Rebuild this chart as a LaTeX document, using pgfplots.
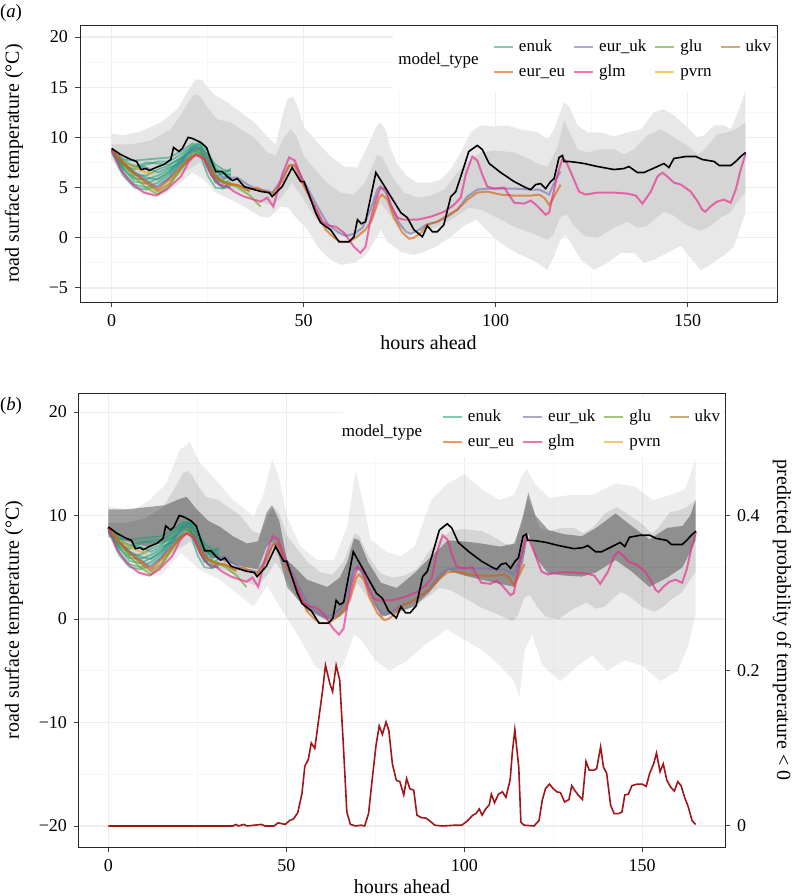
\documentclass[border=0pt]{standalone}
\usepackage{fontspec}
\setmainfont{Liberation Serif}
\usepackage{pgfplots}
\pgfplotsset{compat=1.18}
\usepackage{pgfplotstable}

\definecolor{cEnuk}{HTML}{1B9E77}
\definecolor{cEurEu}{HTML}{D95F02}
\definecolor{cEurUk}{HTML}{7570B3}
\definecolor{cGlm}{HTML}{E7298A}
\definecolor{cGlu}{HTML}{66A61E}
\definecolor{cPvrn}{HTML}{E6AB02}
\definecolor{cUkv}{HTML}{A6761D}
\definecolor{cProb}{HTML}{A31419}
\definecolor{bandOut}{HTML}{E8E8E8}
\definecolor{bandIn}{HTML}{D5D5D5}

% ---------------- data ----------------
\pgfplotstableread{
h t1 t2 t3 t4 t5 t6 t7 t8 t9 t10
0 8.8 8.7 8.6 8.8 8.5 8.7 8.9 8.6 8.8 8.7
3 7.8 7.2 6.8 6.5 6.2 7.5 7.0 7.4 6.9 7.8
6 7.7 6.8 5.9 5.3 5.0 6.2 6.5 7.2 5.6 7.0
9 7.8 7.3 5.8 5.0 4.8 6.2 6.0 7.0 5.4 7.5
12 7.9 7.6 6.2 5.5 5.2 6.8 5.8 6.5 5.9 7.4
15 8.0 7.6 6.8 6.3 6.0 7.2 6.5 7.0 6.6 7.3
18 8.6 8.3 7.8 7.5 7.2 8.0 7.8 7.4 7.6 7.9
21 9.4 9.2 9.0 8.9 8.5 9.1 8.8 8.2 8.8 8.6
23 9.2 9.0 8.8 9.3 8.7 9.5 8.4 8.5 9.0 8.9
25 8.0 7.4 7.0 8.2 7.6 8.6 6.2 7.8 7.0 8.3
27 6.6 6.0 5.5 5.8 6.0 7.0 5.0 6.8 5.6 7.3
29 6.3 6.5 5.8 5.0 5.4 6.4 4.9 6.0 5.0 6.8
31 6.9 6.7 6.2 5.5 5.8 6.3 5.2 6.4 5.0 6.6
}\enuk

\pgfplotstableread{
h v
0 8.8
3 7.3
6 6.0
9 5.0
12 4.3
15 5.2
18 6.8
21 8.4
23 8.8
25 7.8
27 6.0
30 5.5
33 5.0
36 4.2
38.8 3.1
}\glu

\pgfplotstableread{
h v
0 8.8
3 7.5
6 6.4
9 5.4
12 4.6
15 5.4
18 6.9
21 8.1
23 8.3
25 7.4
27 6.0
29 5.6
31 5.4
33 5.2
36 4.6
}\ukv

\pgfplotstableread{
h v
0 8.8
3 7.6
6 7.0
9 6.5
11 6.4
}\pvrn

\pgfplotstableread{
h v
0 8.8
3 7.4
6 6.4
9 5.6
12 4.8
15 5.8
18 7.0
20 7.8
22 8.3
24 7.9
26 6.6
28 5.8
30.1 5.3
32.7 5.3
35.4 4.8
37.9 5.0
40 4.6
41.8 4.4
44.4 5.6
46.2 7.2
47.5 7.3
50.1 5.1
53.6 2.5
55.7 0.8
57.9 0.0
59.6 -0.4
61.8 -0.4
63.9 0.1
66.1 0.8
67.8 1.8
69.6 4.0
70.4 4.3
71.8 3.8
73.5 2.0
75.7 0.5
77.5 -0.1
78.7 0.0
80.5 0.5
82.2 1.3
84.8 1.6
87.4 2.2
90 2.8
92.6 3.8
95.2 4.5
97.8 4.6
101.3 4.3
104.8 4.2
109.1 4.2
111.3 4.3
112.6 4.0
113.9 3.3
114.8 3.8
115.9 4.6
116.9 5.3
}\eureu

\pgfplotstableread{
h v
0 8.8
3 7.5
6 6.5
9 5.7
12 5.0
15 6.0
18 7.4
20 8.4
22 9.0
24 8.6
26 6.8
28 6.0
30 6.0
32.7 6.0
35.4 5.3
37.9 4.8
40.5 4.7
41.9 4.5
44 5.7
46.2 7.2
47.9 7.2
50.1 5.6
53.6 3.1
56.2 1.4
58.8 0.6
60.9 0.2
63.1 0.4
65.3 1.0
67.4 2.8
69.2 4.8
70 5.1
71.4 4.5
73.1 2.8
74.8 1.5
76.6 0.6
77.9 0.4
80.1 0.8
81.8 1.3
84.8 1.6
87.4 2.1
90 2.8
92.6 4.1
95.2 4.8
97.8 4.9
104.8 4.9
109.1 4.8
111.3 4.8
113 4.5
113.9 4.3
114.8 5.1
115.6 5.8
116.9 6.6
}\euruk

\pgfplotstableread{
h v
0 8.8
2.3 6.8
5 5.5
8.4 4.5
11.5 4.2
14.3 4.8
18 6.1
20.1 7.6
21.9 8.3
24.1 7.8
25.8 6.3
27.9 5.3
30.1 5.1
31.9 4.6
34.5 4.1
37.1 3.8
38.8 3.6
40.5 4.0
42.1 3.1
44.4 6.3
46.2 8.0
47.7 7.7
50.1 5.3
52.7 3.3
54.9 1.6
56.6 1.2
58.4 1.1
60.5 0.5
63.1 -0.9
64.8 -1.5
66.1 -0.9
67.4 1.8
68.8 3.8
70 5.0
71.4 4.8
72.7 3.3
74.4 2.0
76.1 1.8
79.6 1.8
83.1 2.1
86.6 2.6
89.2 3.3
90.9 4.0
92.2 6.3
93.9 8.1
95.2 7.7
96.5 6.3
97.8 5.1
99.6 4.9
102.2 5.0
104.8 3.5
107.4 3.4
109.1 3.7
110.5 3.3
113 2.3
113.9 2.5
114.8 4.1
116.1 6.3
117.4 7.9
118.2 7.7
119.6 6.5
121.7 4.6
123.4 4.3
126.5 4.5
130.8 4.5
134.3 4.4
136.5 4.2
138.2 3.4
140.4 4.6
142.1 6.1
143.4 6.5
144.7 6.1
146.4 5.5
148.2 5.3
150.8 4.6
152.6 3.6
153.8 2.8
154.6 2.6
155.9 3.1
157.6 3.6
159.4 3.8
161.2 3.5
162.5 4.8
163.8 6.8
165.1 8.4
}\glm

\pgfplotstableread{
h v
0 8.9
2.3 8.3
5 7.8
6.5 7.6
7.6 6.8
8.9 6.9
9.8 6.7
11.5 7.0
13.6 7.3
15.4 7.8
16.1 9.0
17.5 8.6
18.4 8.9
19.9 10.0
21 9.9
23.2 9.5
24.7 9.0
25.8 7.8
27.1 6.6
28.8 6.6
30.1 6.1
31.5 5.7
32.7 5.9
34.5 5.1
37.1 4.8
39 4.6
41 4.5
41.8 4.1
44.4 5.1
47 7.0
49.2 5.6
50.1 5.6
53.1 2.5
54.4 1.5
57 0.8
59.2 -0.4
61.8 -0.4
63.1 0.1
64 1.8
65 1.4
66.1 1.6
68.8 6.5
70.6 5.4
72.7 4.1
75.3 2.5
77 2.0
78.7 0.8
80.9 0.1
82.2 1.2
83.5 0.6
84.8 0.6
86.5 1.3
88.3 4.1
89.6 4.6
90.9 6.1
93 8.6
95.2 9.2
96.5 8.8
98.3 7.4
101.3 6.5
104.8 5.6
107.8 5.0
109.1 4.8
110.4 5.3
111.7 5.4
113 4.9
114.3 5.6
115.2 5.9
116.5 8.0
117.4 8.2
117.8 7.6
119.1 7.6
121.3 7.5
123 7.4
126.5 7.1
130.8 6.8
133.4 6.9
134.7 7.1
136.9 6.5
138.6 6.5
142.1 7.1
143.8 7.4
145.1 7.0
146.4 7.9
149.5 8.1
152.1 8.1
153.8 7.8
156.9 7.6
158.2 7.2
161.2 7.2
162.5 7.6
163.8 8.1
165.1 8.5
}\obs

% ribbons: upper edge, then lower edge (reversed below into one polygon)
\pgfplotstableread{
h v
0 10.4
3 10.2
7.6 10.6
12.8 11.5
17.1 12.8
19.7 14.5
21.9 15.8
23.6 15.7
24.9 15.0
26.6 14.3
30.1 13.5
33.6 12.5
37.1 11.5
40.5 10.1
42.7 9.3
44.9 12.8
45.8 13.8
47.1 14.1
48.2 13.3
50.1 11.0
53.6 9.5
57 8.1
60.5 7.1
64 7.0
66.6 9.1
68.8 11.0
70 11.5
71.4 10.7
72.7 8.8
74.4 7.3
77 6.1
79.6 5.5
83.1 5.5
85.7 5.8
88.3 6.8
90.9 8.5
93.5 10.5
96.1 11.2
99.6 11.1
103.1 11.2
106.5 10.8
110.9 10.5
113.5 9.8
115.2 10.8
117.8 13.5
119.1 13.1
121.3 11.2
123.9 10.5
127.3 10.5
130.8 10.1
134.3 10.5
137.8 10.8
141.2 12.5
143.8 12.8
146.4 12.2
149.9 11.0
152.5 10.0
154.2 10.2
156.9 11.2
159.5 11.2
161.2 10.8
163.4 12.8
165 14.6
}\outup

\pgfplotstableread{
h v
0 7.8
3 6.0
6 4.8
10 4.2
14 4.4
18 5.5
21 6.5
24 5.8
27 4.5
30 4.0
34 3.2
38.8 2.1
41 2.0
44 3.1
46 3.0
48 2.0
51 0.8
53.6 -0.9
57 -2.2
59.6 -2.7
63.1 -2.5
65.3 -2.0
66.6 -1.5
68.4 -0.3
70.1 0.8
71.8 -0.4
75.3 -1.4
78.7 -1.7
81.3 -1.4
84.8 -0.8
88.3 0.1
91.8 1.2
95 1.8
99.6 0.0
103.1 -1.0
106.5 -1.7
110 -2.3
113.5 -3.2
115.2 -1.8
116.9 -0.2
118 0.3
119.6 -0.5
122.2 -2.2
125.6 -3.2
129.1 -2.5
132.6 -1.5
136 -1.5
138.6 -2.5
141.2 -2.2
144.7 -1.5
148.2 -0.8
150.5 -1.9
153.4 -3.2
155.5 -2.8
157.7 -2.2
160.3 -1.5
162 -0.9
163.8 1.1
165 2.5
}\outlo

\pgfplotstableread{
h v
0 9.3
5 9.3
10.2 9.7
15.4 10.8
18.4 12.5
21 14.1
22.3 14.3
23.5 13.9
24.9 13.0
27.5 11.8
31 11.5
33.6 10.8
37.1 10.0
40.5 8.5
42.7 8.2
44.9 10.0
46.6 10.8
48 10.2
50.1 8.1
53 6.8
56 5.5
59.6 4.5
63 4.3
66 5.5
69.2 8.3
70.5 8.0
72.7 6.3
76.1 4.5
79.6 4.0
83.1 4.2
86.6 4.8
90 6.5
93.5 7.8
96.1 8.5
99.6 8.7
105 8.5
109 7.8
111.3 7.3
113.5 7.1
116.1 9.0
117.8 11.7
119.6 10.2
121.3 8.8
123.9 8.5
127.3 8.8
130.8 8.8
133.4 8.3
136 8.8
139.5 10.2
142.9 10.8
145.6 10.2
149.9 9.2
152.5 8.3
154.2 8.7
157.7 10.3
160.3 10.5
162.5 10.8
165 11.5
}\inup

\pgfplotstableread{
h v
0 8.2
5 6.0
10 5.2
15 5.6
20 6.8
23 7.5
25 6.5
28 5.2
32 4.8
36 4.2
40 3.4
42 3.2
44.5 4.2
47 5.5
50 3.8
53 2.0
56 0.8
59 0.2
62 0.0
65 0.4
68 2.0
70 3.5
72 2.5
75 1.0
78 0.5
81 0.8
84 1.0
87 1.5
90 2.2
93 3.0
96.1 2.8
101.3 1.8
104.8 1.1
109.1 0.5
113.5 -0.2
115 0.3
116.9 2.1
118.5 2.3
120.4 1.2
123 0.2
126.5 0.0
130.8 1.0
134.3 1.6
136.9 1.0
139.5 1.2
142.1 2.1
144 2.6
146.4 2.2
149.9 1.2
153.4 0.7
156 1.2
158.5 2.0
161 2.5
163.8 4.0
165 4.5
}\inlo

% scatter cloud extent (panel b)
\pgfplotstableread{
h v
0 10.9
6.9 10.5
11.6 11.5
16.3 13.1
20 16.3
22.9 17.1
25.7 15.1
29.5 13.7
35.1 11.5
40.8 9.9
43.6 12.1
46 15.4
47.6 14.1
50.2 9.9
54 7.0
58.7 5.7
63.4 5.7
67.1 8.9
69.5 14.4
71.4 11.5
73.7 7.7
78 6.5
82.2 6.1
86 7.0
90.7 11.5
95 13.0
100 14.0
105 12.5
110 11.5
114 12.0
116 13.7
117.5 14.5
120 13.0
124 11.7
130 12.0
136 12.0
142.5 13.1
148 12.8
153 11.5
158 12.0
162 12.5
165 15.4
}\cloudup

\pgfplotstableread{
h v
0 8.3
5.2 6.0
9 4.2
14.7 4.2
20.4 6.4
25.9 4.7
31.4 3.8
37.1 2.2
40.8 1.2
44.6 3.2
49.3 0.6
54 -2.0
58 -4.5
62 -5.5
66 -4.5
69 -1.5
71 -2.0
75 -4.0
79 -5.0
84 -4.0
89 -2.5
95 -1.0
100 -2.0
105 -3.0
110 -4.5
114 -6.0
115.5 -7.5
117 -3.0
119 -1.5
122 -4.5
127 -6.0
132 -4.5
136 -3.5
140 -5.0
145 -4.0
150 -4.5
155 -6.0
160 -5.0
163 -2.5
165 0.5
}\cloudlo

% dense core of the scatter (panel b)
\pgfplotstableread{
h v
0 10.6
5 10.6
10.6 10.8
16 11.0
20 11.6
22 11.8
24.8 10.6
28 9.5
31.4 8.9
35 8.0
38.9 7.3
42 7.5
44.5 10.3
46 11.0
48 9.5
50.2 5.7
53 4.8
55.8 3.8
61.5 3.1
65 4.0
67.1 5.5
69 7.8
70.5 7.6
73 5.5
76.6 3.5
81 3.0
85.9 4.4
90 5.8
95.4 7.6
100 7.5
104.8 7.3
110 7.0
114.2 7.3
116.5 10.0
118 12.2
120 10.0
123.6 8.6
128 8.2
133 8.0
137 8.8
142.5 10.2
147 9.0
152 7.7
157 8.8
161.3 9.0
163.5 10.0
165 11.5
}\coreup

\pgfplotstableread{
h v
0 7.9
5 7.5
10.6 7.0
16 7.5
20 8.7
22 8.8
24.8 7.0
28 6.2
31.4 5.7
35 5.3
38.9 5.0
42 4.8
44.5 7.0
46 7.5
48 6.0
50.2 3.1
53 2.0
55.8 0.9
61.5 -0.1
65 0.2
67.1 0.9
69 4.7
70.5 4.7
73 3.0
76.6 0.2
81 0.6
85.9 1.2
90 2.5
95.4 4.7
100 4.2
104.8 3.8
110 3.4
114.2 3.1
116.5 5.5
118 8.3
120 6.0
123.6 4.4
128 4.2
133 4.1
137 4.5
142.5 5.7
147 4.6
152 3.1
157 4.0
161.3 5.0
163.5 6.5
165 7.6
}\corelo

% closed polygons: upper edge forwards, lower edge backwards
\pgfplotstablesort[sort key=h, sort cmp=float >]{\outloR}{\outlo}
\pgfplotstablevertcat{\outup}{\outloR}
\pgfplotstablesort[sort key=h, sort cmp=float >]{\inloR}{\inlo}
\pgfplotstablevertcat{\inup}{\inloR}
\pgfplotstablesort[sort key=h, sort cmp=float >]{\cloudloR}{\cloudlo}
\pgfplotstablevertcat{\cloudup}{\cloudloR}
\pgfplotstablesort[sort key=h, sort cmp=float >]{\coreloR}{\corelo}
\pgfplotstablevertcat{\coreup}{\coreloR}

% predicted probability of temperature < 0
\pgfplotstableread{
h p
0 0
35 0
35.8 0.002
36.6 0
38 0.002
39 0
43 0.002
44 0
46.5 0
47.7 0.004
48.7 0.003
49.7 0.002
50.9 0.007
52 0.009
53.2 0.017
54.4 0.042
55.2 0.077
56.2 0.086
57 0.107
58 0.100
59.2 0.141
60.2 0.175
61 0.207
62.2 0.184
63 0.173
64 0.207
65 0.188
66 0.106
67 0.018
68 0.002
69.5 0
71 0.001
72 0
73.1 0.016
74.1 0.059
75.2 0.104
76.1 0.129
77 0.118
78 0.134
78.8 0.123
79.8 0.080
80.9 0.059
81.9 0.057
83 0.040
83.8 0.061
84.7 0.048
85.8 0.046
86.7 0.014
87.8 0.011
89.3 0.010
90.7 0.005
91.7 0.001
93.8 0
97.4 0.001
99.3 0.001
101 0.007
102.4 0.014
103.3 0.016
104.2 0.022
105 0.014
106 0.022
107 0.027
107.6 0.041
108.5 0.030
109.6 0.041
110.7 0.044
111.7 0.037
112.9 0.060
113.5 0.095
114.2 0.124
115.3 0.076
115.9 0.005
116.8 0.001
119.6 0
121 0.007
121.9 0.033
122.8 0.048
123.9 0.054
125 0.048
126 0.044
127 0.043
128.2 0.031
129.4 0.034
130.2 0.052
131 0.046
132 0.040
133.2 0.034
134.2 0.083
135.1 0.072
136.5 0.072
137.2 0.074
138.3 0.102
139.1 0.076
140 0.068
141.1 0.027
142.1 0.016
143.4 0.016
144.3 0.018
145.1 0.040
146.1 0.041
147.1 0.052
148.6 0.054
150 0.054
151.1 0.051
152.1 0.068
153.2 0.080
154 0.094
155 0.070
155.9 0.080
156.9 0.059
158 0.050
159 0.045
160 0.057
160.9 0.052
161.9 0.037
162.9 0.025
164 0.007
165 0.002
}\prob

% ---------------- styles ----------------
\pgfplotsset{
  sEnuk/.style={color=cEnuk, line width=0.9pt, opacity=0.55},
  sEurEu/.style={color=cEurEu, line width=1pt, opacity=0.62},
  sEurUk/.style={color=cEurUk, line width=1pt, opacity=0.6},
  sGlm/.style={color=cGlm, line width=1pt, opacity=0.65},
  sGlu/.style={color=cGlu, line width=1pt, opacity=0.6},
  sPvrn/.style={color=cPvrn, line width=1pt, opacity=0.6},
  sUkv/.style={color=cUkv, line width=1pt, opacity=0.6},
  sObs/.style={color=black, line width=0.8pt},
  base/.style={
    scale only axis,
    axis line style={black!85, line width=0.5pt},
    tick style={black!75, line width=0.5pt},
    tick align=outside, major tick length=2.5pt, minor tick length=0pt,
    xtick pos=lower, ytick pos=left,
    grid=both,
    major grid style={gray!13, line width=0.55pt},
    minor grid style={gray!6, line width=0.4pt},
    minor tick num=1,
    xmin=-8.25, xmax=173.25, xtick={0,50,100,150},
    tick label style={font=\fontsize{9}{10}\selectfont},
    label style={font=\fontsize{9.4}{11}\selectfont},
    /pgf/number format/assume math mode=true,
    legend columns=4,
    legend cell align=left,
    legend image code/.code={\draw[##1] (0pt,0pt) -- (9.5pt,0pt);},
    legend style={draw=none, fill=white, inner sep=0pt, outer sep=0pt,
      font=\fontsize{8.5}{9}\selectfont,
      nodes={inner sep=1pt, text height=6pt, text depth=1.8pt},
      row sep=2.7pt,
      /tikz/every odd column/.append style={column sep=1.5pt},
      /tikz/every even column/.append style={column sep=3pt}},
  },
}

\newcommand{\legimages}{%
  \addlegendimage{sEnuk}
  \addlegendimage{sEurUk}
  \addlegendimage{sGlu}
  \addlegendimage{sUkv}
  \addlegendimage{sEurEu}
  \addlegendimage{sGlm}
  \addlegendimage{sPvrn}
}
\newcommand{\modellines}{%
  \addplot[sEnuk, forget plot] table[x=h,y=t1]{\enuk};
  \addplot[sEnuk, forget plot] table[x=h,y=t2]{\enuk};
  \addplot[sEnuk, forget plot] table[x=h,y=t3]{\enuk};
  \addplot[sEnuk, forget plot] table[x=h,y=t4]{\enuk};
  \addplot[sEnuk, forget plot] table[x=h,y=t5]{\enuk};
  \addplot[sEnuk, forget plot] table[x=h,y=t6]{\enuk};
  \addplot[sEnuk, forget plot] table[x=h,y=t7]{\enuk};
  \addplot[sEnuk, forget plot] table[x=h,y=t8]{\enuk};
  \addplot[sEnuk, forget plot] table[x=h,y=t9]{\enuk};
  \addplot[sEnuk, forget plot] table[x=h,y=t10]{\enuk};
  \addplot[sPvrn, forget plot] table[x=h,y=v]{\pvrn};
  \addplot[sUkv, forget plot] table[x=h,y=v]{\ukv};
  \addplot[sGlu, forget plot] table[x=h,y=v]{\glu};
  \addplot[sEurUk, forget plot] table[x=h,y=v]{\euruk};
  \addplot[sEurEu, forget plot] table[x=h,y=v]{\eureu};
  \addplot[sGlm, forget plot] table[x=h,y=v]{\glm};
  \addplot[sObs, forget plot] table[x=h,y=v]{\obs};
}

\begin{document}
\begin{tikzpicture}
\useasboundingbox (0,0) rectangle (398pt,-448pt);

\node[font=\fontsize{9.4}{11}\selectfont] at (5.5pt,-6.5pt) {(\textit{a})};
\node[font=\fontsize{9.4}{11}\selectfont] at (5.5pt,-203pt) {(\textit{b})};

% ---------------- panel (a) ----------------
\begin{axis}[base,
  at={(40pt,-151pt)}, anchor=south west,
  width=348.5pt, height=138.5pt,
  ymin=-6.4, ymax=21.2,
  ytick={-5,0,5,10,15,20},
  yticklabels={−5,0,5,10,15,20},
  xlabel={hours ahead},
  ylabel={road surface temperature (°C)},
  every axis x label/.style={at={(axis description cs:0.5,-0.148)}, anchor=center},
  every axis y label/.style={at={(axis description cs:-0.0947,0.5)}, rotate=90, anchor=center},
  legend style={at={(axis description cs:0.5925,0.8755)}, anchor=west},
]
\legimages
\addplot[fill=bandOut, draw=none, forget plot] table[x=h,y=v]{\outup};
\addplot[fill=bandIn, draw=none, forget plot] table[x=h,y=v]{\inup};
\modellines
\fill[white] (axis description cs:0.449,0.758) rectangle (axis description cs:0.990,0.989);
\node[fill=white, inner sep=1pt, font=\fontsize{8.5}{9}\selectfont, anchor=center]
  at (axis description cs:0.5143,0.8736) {model\_type};
\legend{enuk, eur\_uk, glu, ukv, eur\_eu, glm, pvrn}
\end{axis}

% ---------------- panel (b) ----------------
\begin{axis}[base,
  at={(39.5pt,-423.5pt)}, anchor=south west,
  width=323pt, height=227pt,
  ymin=-22.03, ymax=21.84,
  ytick={-20,-10,0,10,20},
  yticklabels={−20,−10,0,10,20},
  xlabel={hours ahead},
  ylabel={road surface temperature (°C)},
  every axis x label/.style={at={(axis description cs:0.5,-0.0881)}, anchor=center},
  every axis y label/.style={at={(axis description cs:-0.1006,0.5)}, rotate=90, anchor=center},
  legend style={at={(axis description cs:0.5619,0.9196)}, anchor=west},
]
\legimages
\addplot[fill=black, fill opacity=0.07, draw=none, forget plot] table[x=h,y=v]{\cloudup};
\addplot[fill=black, fill opacity=0.10, draw=none, forget plot] table[x=h,y=v]{\inup};
\addplot[fill=black, fill opacity=0.33, draw=none, forget plot] table[x=h,y=v]{\coreup};
\modellines
\fill[white] (axis description cs:0.409,0.857) rectangle (axis description cs:0.992,0.989);
\node[fill=white, inner sep=1pt, font=\fontsize{8.5}{9}\selectfont, anchor=center]
  at (axis description cs:0.469,0.914) {model\_type};
\legend{enuk, eur\_uk, glu, ukv, eur\_eu, glm, pvrn}
\end{axis}

% probability axis (right)
\begin{axis}[
  scale only axis,
  at={(39.5pt,-423.5pt)}, anchor=south west,
  width=323pt, height=227pt,
  xmin=-8.25, xmax=173.25,
  ymin=-0.0271, ymax=0.5579,
  axis x line=none, axis y line*=right,
  axis line style={black!85, line width=0.5pt},
  tick style={black!75, line width=0.5pt},
  tick align=outside, major tick length=2.5pt,
  ytick={0,0.2,0.4},
  minor tick num=0,
  tick label style={font=\fontsize{9}{10}\selectfont},
  label style={font=\fontsize{9.4}{11}\selectfont},
  /pgf/number format/assume math mode=true,
  ylabel={predicted probability of temperature < 0},
  every axis y label/.style={at={(axis description cs:1.0882,0.5)}, rotate=-90, anchor=center},
]
\addplot[color=cProb, line width=0.8pt] table[x=h,y=p]{\prob};
\end{axis}
\end{tikzpicture}
\end{document}
